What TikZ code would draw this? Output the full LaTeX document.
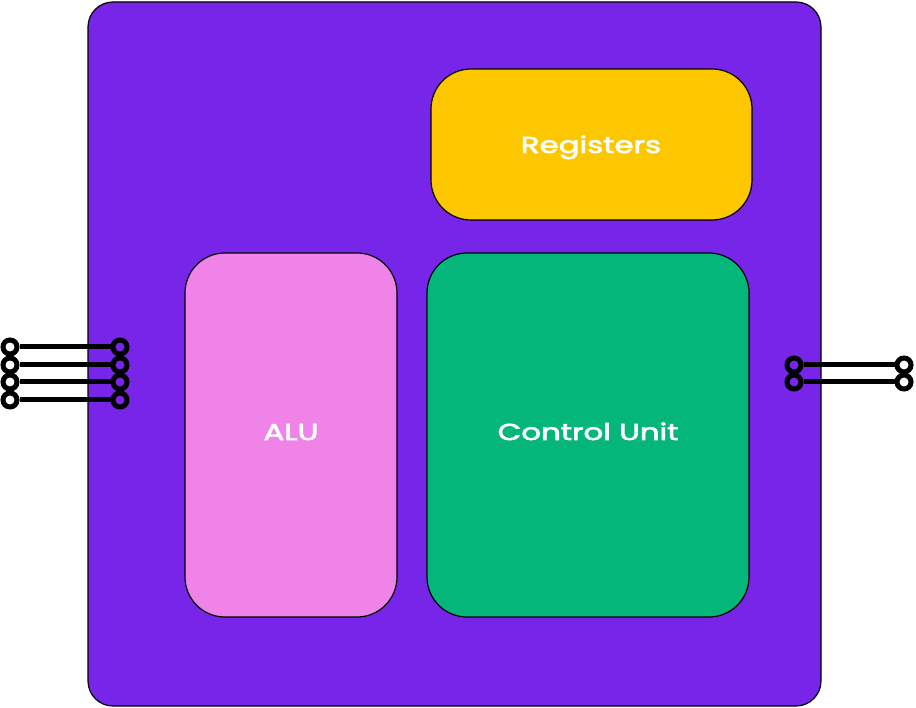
\documentclass[tikz,border=0pt]{standalone}
\usepackage{fontspec}
\setmainfont{Poppins}[FakeBold=2.5]
\definecolor{cpu}{HTML}{7725E8}
\definecolor{reg}{HTML}{FDC700}
\definecolor{alu}{HTML}{F083E8}
\definecolor{cu}{HTML}{04B67A}
\tikzset{
  blk/.style={draw=black, line width=1.2pt, rounded corners=#1},
  lbl/.style={text=white, anchor=base, inner sep=0pt, font=\fontsize{23}{25}\selectfont},
  pin/.style={circle, draw=black, line width=5pt, minimum size=14pt, inner sep=0pt},
  wire/.style={line width=5pt}
}
\newcommand{\wlbl}[1]{\scalebox{1.34}[1]{#1}}
\begin{document}
\begin{tikzpicture}[x=1pt,y=-1pt]
\useasboundingbox (0,0) rectangle (916,708);
\draw[blk=25pt, fill=cpu] (88,2) rectangle (821,706);
\node[blk=40pt, fill=reg, minimum width=321pt, minimum height=151pt] (reg) at (591.5,144.5) {};
\node[blk=40pt, fill=alu, minimum width=212pt, minimum height=364pt] (alu) at (291,435) {};
\node[blk=40pt, fill=cu, minimum width=322pt, minimum height=364pt] (cu) at (588,435) {};
\node[lbl] (regt) at (591,153) {\wlbl{Registers}};
\node[lbl] (alut) at (291,440) {\wlbl{ALU}};
\node[lbl] (cut) at (588,440) {\wlbl{Control Unit}};
\foreach \i/\y in {1/347,2/365,3/382,4/400}{
  \node[pin] (la\i) at (10,\y) {};
  \node[pin] (lb\i) at (120,\y) {};
  \draw[wire] (la\i) -- (lb\i);
}
\foreach \i/\y in {1/365,2/382}{
  \node[pin] (ra\i) at (794,\y) {};
  \node[pin] (rb\i) at (904,\y) {};
  \draw[wire] (ra\i) -- (rb\i);
}
\end{tikzpicture}
\end{document}
